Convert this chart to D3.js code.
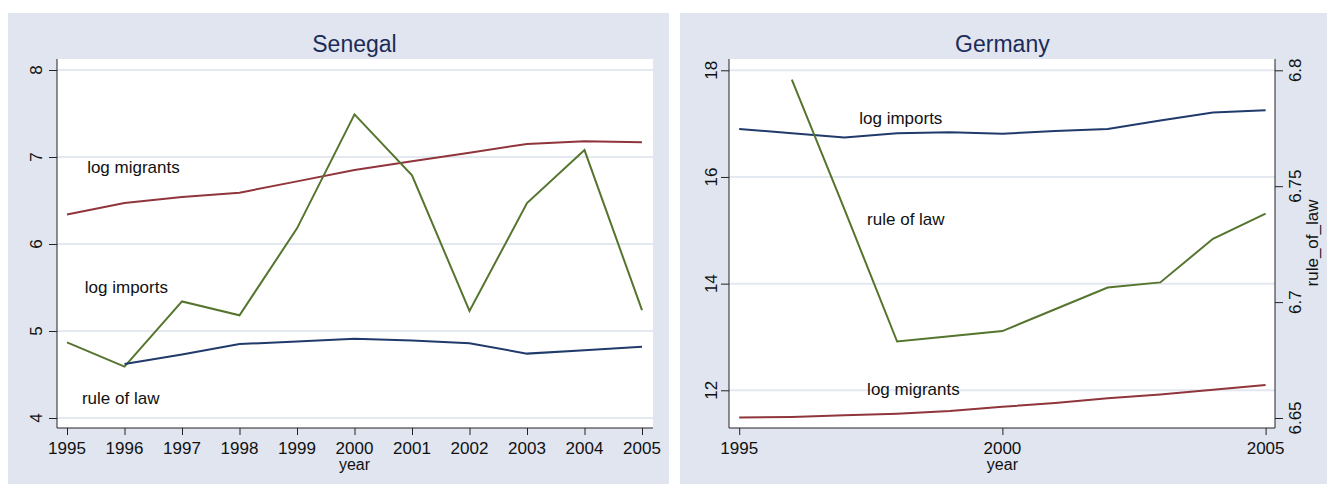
<!DOCTYPE html>
<html>
<head>
<meta charset="utf-8">
<script src="https://cdn.jsdelivr.net/npm/d3@7"></script>
<style>
  body { margin: 0; background: #fff; }
  text { font-family: "Liberation Sans", Arial, sans-serif; fill: #111; }
</style>
</head>
<body>
<svg id="chart" width="1327" height="484"></svg>
<script>
// データ
const years = [1995, 1996, 1997, 1998, 1999, 2000, 2001, 2002, 2003, 2004, 2005];

// Senegal
const sen_migrants = [6.34, 6.47, 6.54, 6.59, 6.72, 6.85, 6.95, 7.05, 7.15, 7.18, 7.17];
const sen_imports = [4.87, 4.59, 5.34, 5.18, 6.18, 7.49, 6.79, 5.23, 6.47, 7.08, 5.24];
const sen_rule = [null, 4.62, 4.73, 4.85, 4.88, 4.91, 4.89, 4.86, 4.74, 4.78, 4.82];
const sen_yticks = [4, 5, 6, 7, 8];
const sen_xticks = years;

// Germany
const ger_imports = [16.9, 16.82, 16.74, 16.82, 16.84, 16.81, 16.86, 16.9, 17.06, 17.21, 17.25];
const ger_migrants = [11.49, 11.5, 11.53, 11.56, 11.61, 11.69, 11.76, 11.85, 11.92, 12.01, 12.1];
const ger_rule = [null, 6.796, 6.74, 6.683, 6.6853, 6.6875, 6.6969, 6.7063, 6.7085, 6.7273, 6.7382];
const ger_yticks = [12, 14, 16, 18];
const ger_rticks = [6.65, 6.7, 6.75, 6.8];
const ger_xticks = [1995, 2000, 2005];

// 注記ラベル [text, year, value]
const sen_labels = [["log migrants", 1995.35, 6.885], ["log imports", 1995.31, 5.506], ["rule of law", 1995.26, 4.23]];
const ger_labels = [["log imports", 1997.28, 17.106], ["rule of law", 1997.43, 15.21], ["log migrants", 1997.43, 12.02]];

const NAVY = "#1f3a6b", MAROON = "#90353b", GREEN = "#55752f";
const BG = "#e0e5ef", GRID = "#e3e8f1";

const svg = d3.select("#chart");

function panel(cfg) {
    const g = svg.append("g");
    // 背景
    g.append("rect").attr("x", cfg.bx).attr("y", 13).attr("width", cfg.bw).attr("height", 471).attr("fill", BG);
    // プロット領域
    g.append("rect").attr("x", cfg.px0).attr("y", 59).attr("width", cfg.px1 - cfg.px0).attr("height", 428 - 59).attr("fill", "#fff");

    const x = d3.scaleLinear().domain([1995, 2005]).range(cfg.xr);
    const y = d3.scaleLinear().domain(cfg.yd).range(cfg.yr);

    // グリッド線
    g.append("g").selectAll("line").data(cfg.yticks).enter().append("line")
        .attr("x1", cfg.px0).attr("x2", cfg.px1)
        .attr("y1", (d) => y(d)).attr("y2", (d) => y(d))
        .attr("stroke", GRID).attr("stroke-width", 2);

    // 左軸
    const yAxis = g.append("g").attr("transform", `translate(${cfg.px0},0)`)
        .call(d3.axisLeft(y).tickValues(cfg.yticks).tickSize(8).tickFormat(""));
    yAxis.select(".domain").attr("d", `M0,59V428`).attr("stroke", "#222");
    yAxis.selectAll(".tick line").attr("stroke", "#222");
    g.append("g").selectAll("text").data(cfg.yticks).enter().append("text")
        .attr("transform", (d) => `translate(${cfg.ylabx},${y(d)}) rotate(-90)`)
        .attr("text-anchor", "middle").attr("font-size", 17)
        .text((d) => d);

    // 下軸
    const xAxis = g.append("g").attr("transform", "translate(0,428)")
        .call(d3.axisBottom(x).tickValues(cfg.xticks).tickSize(7).tickFormat(""));
    xAxis.select(".domain").attr("d", `M${cfg.px0},0H${cfg.px1}`).attr("stroke", "#222");
    xAxis.selectAll(".tick line").attr("stroke", "#222");
    g.append("g").selectAll("text").data(cfg.xticks).enter().append("text")
        .attr("x", (d) => x(d)).attr("y", 454)
        .attr("text-anchor", "middle").attr("font-size", 17)
        .text((d) => d);
    g.append("text").attr("x", (cfg.xr[0] + cfg.xr[1]) / 2).attr("y", 470)
        .attr("text-anchor", "middle").attr("font-size", 16).text("year");

    // タイトル
    g.append("text").attr("x", (cfg.xr[0] + cfg.xr[1]) / 2).attr("y", 52)
        .attr("text-anchor", "middle").attr("font-size", 23)
        .style("fill", "#1c2b59").text(cfg.title);

    // 右軸
    let yR = null;
    if (cfg.rd) {
        yR = d3.scaleLinear().domain(cfg.rd).range(cfg.rr);
        const rAxis = g.append("g").attr("transform", `translate(${cfg.px1},0)`)
            .call(d3.axisRight(yR).tickValues(cfg.rticks).tickSize(8).tickFormat(""));
        rAxis.select(".domain").attr("d", `M0,59V428`).attr("stroke", "#222");
        rAxis.selectAll(".tick line").attr("stroke", "#222");
        g.append("g").selectAll("text").data(cfg.rticks).enter().append("text")
            .attr("transform", (d) => `translate(1301,${yR(d)}) rotate(-90)`)
            .attr("text-anchor", "middle").attr("font-size", 17)
            .text((d) => d);
        g.append("text").attr("transform", "translate(1318,243) rotate(-90)")
            .attr("text-anchor", "middle").attr("font-size", 17).text("rule_of_law");
    }

    // 系列
    cfg.series.forEach((s) => {
        const sc = s.right ? yR : y;
        const line = d3.line()
            .defined((d) => d[1] != null)
            .x((d) => x(d[0])).y((d) => sc(d[1]));
        g.append("path")
            .datum(years.map((yr, i) => [yr, s.values[i]]))
            .attr("d", line).attr("fill", "none")
            .attr("stroke", s.color).attr("stroke-width", 2)
            .attr("stroke-linejoin", "miter");
    });

    // 注記
    g.append("g").selectAll("text").data(cfg.labels).enter().append("text")
        .attr("x", (d) => x(d[1])).attr("y", (d) => y(d[2])).attr("dy", "0.35em")
        .attr("font-size", 17).text((d) => d[0]);
}

panel({
    title: "Senegal", bx: 8, bw: 661, px0: 57, px1: 653,
    xr: [67, 642], yd: [4, 8], yr: [418, 70], ylabx: 42,
    yticks: sen_yticks, xticks: sen_xticks, labels: sen_labels,
    series: [
        { values: sen_migrants, color: MAROON },
        { values: sen_imports, color: GREEN },
        { values: sen_rule, color: NAVY }
    ]
});

panel({
    title: "Germany", bx: 680, bw: 647, px0: 729, px1: 1275,
    xr: [739.2, 1265.6], yd: [12, 18], yr: [390.3, 70.3], ylabx: 717,
    rd: [6.65, 6.8], rr: [418, 70.3], rticks: ger_rticks,
    yticks: ger_yticks, xticks: ger_xticks, labels: ger_labels,
    series: [
        { values: ger_imports, color: NAVY },
        { values: ger_migrants, color: MAROON },
        { values: ger_rule, color: GREEN, right: true }
    ]
});
</script>
</body>
</html>
